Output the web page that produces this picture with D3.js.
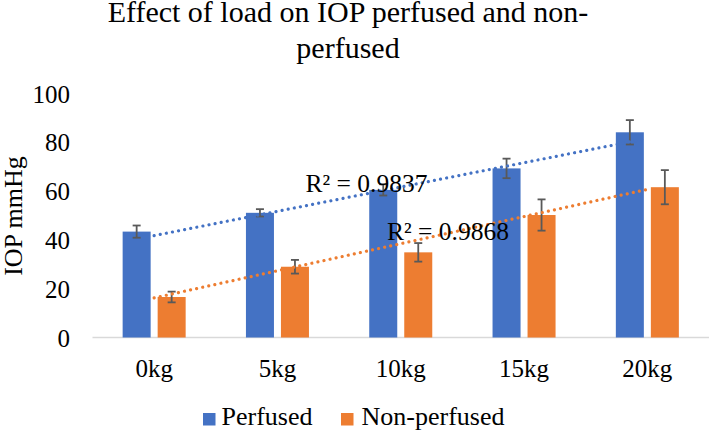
<!DOCTYPE html>
<html>
<head>
<meta charset="utf-8">
<script src="https://cdn.jsdelivr.net/npm/d3@7"></script>
<style>
  html, body { margin: 0; padding: 0; background: #fff; }
  svg { display: block; }
  text { font-family: "Liberation Serif", "Times New Roman", serif; fill: #000; }
</style>
</head>
<body>
<svg id="chart" width="709" height="432"></svg>
<script>
const categories = ["0kg", "5kg", "10kg", "15kg", "20kg"];
const seriesNames = ["Perfused", "Non-perfused"];
const perfused = [43.4, 51.1, 60.5, 69.3, 84.1];
const perfusedErr = [2.5, 1.5, 2.3, 4.0, 5.0];
const nonPerfused = [16.6, 29.0, 34.9, 50.2, 61.6];
const nonPerfusedErr = [2.2, 2.8, 3.8, 6.4, 7.0];
const yTicks = [0, 20, 40, 60, 80, 100];
const r2Labels = ["R² = 0.9837", "R² = 0.9868"];
const titleLines = ["Effect of load on IOP perfused and non-", "perfused"];
const yTitle = "IOP mmHg";
const colors = ["#4472C4", "#ED7D31"];

const FONT = '"Liberation Serif", "Times New Roman", serif';
const svg = d3.select("#chart");
const x0 = d3.scaleBand().domain(categories).range([92.5, 709]).padding(0);
const x1 = d3.scaleBand().domain(seriesNames).range([0, x0.bandwidth()])
  .paddingInner(0.2).paddingOuter(0.861);
const y = d3.scaleLinear().domain([0, 100]).range([337.5, 93.5]);

// title
svg.append("g").selectAll("text").data(titleLines).join("text")
  .attr("x", 348).attr("y", (d, i) => 22 + i * 36)
  .attr("text-anchor", "middle").style("font-size", "30px").style("font-family", FONT).text(d => d);

// y axis title
svg.append("text")
  .attr("transform", "translate(22,216) rotate(-90)")
  .attr("text-anchor", "middle").style("font-size", "26px").style("font-family", FONT).text(yTitle);

// y axis (labels only)
const yAxis = d3.axisLeft(y).tickValues(yTicks).tickSize(0).tickPadding(0);
const gy = svg.append("g").attr("transform", "translate(70,0)").call(yAxis)
  .attr("font-family", null).attr("font-size", null);
gy.select(".domain").remove();
gy.selectAll("text").style("font-size", "25px").style("font-family", FONT)
  .attr("fill", "#000").attr("dy", "0.34em");

// x axis baseline + category labels
const xAxis = d3.axisBottom(x0).tickSize(0).tickPadding(0);
const gx = svg.append("g").attr("transform", `translate(0,${y(0)})`).call(xAxis)
  .attr("font-family", null).attr("font-size", null);
gx.select(".domain").attr("stroke", "#d9d9d9").attr("stroke-width", 1.3)
  .attr("d", `M92.5,0H709`);
gx.selectAll("text").style("font-size", "25px").style("font-family", FONT)
  .attr("fill", "#000").attr("y", 39).attr("dy", "0");

const series = [
  { name: seriesNames[0], values: perfused, err: perfusedErr, color: colors[0] },
  { name: seriesNames[1], values: nonPerfused, err: nonPerfusedErr, color: colors[1] }
];

// bars
series.forEach(s => {
  svg.append("g").selectAll("rect").data(categories).join("rect")
    .attr("x", (c) => x0(c) + x1(s.name))
    .attr("y", (c, i) => y(s.values[i]))
    .attr("width", x1.bandwidth())
    .attr("height", (c, i) => y(0) - y(s.values[i]))
    .attr("fill", s.color);
});

// error bars
series.forEach(s => {
  const g = svg.append("g").attr("stroke", "#595959").attr("stroke-width", 1.8).attr("fill", "none");
  categories.forEach((c, i) => {
    const cx = x0(c) + x1(s.name) + x1.bandwidth() / 2;
    const lo = y(s.values[i] - s.err[i]);
    const hi = y(s.values[i] + s.err[i]);
    g.append("line").attr("x1", cx).attr("x2", cx).attr("y1", lo).attr("y2", hi);
    g.append("line").attr("x1", cx - 4).attr("x2", cx + 4).attr("y1", lo).attr("y2", lo);
    g.append("line").attr("x1", cx - 4).attr("x2", cx + 4).attr("y1", hi).attr("y2", hi);
  });
});

// linear trendlines (least squares over category index)
function fit(vals) {
  const xs = vals.map((v, i) => i + 1);
  const mx = d3.mean(xs), my = d3.mean(vals);
  let sxy = 0, sxx = 0;
  xs.forEach((xv, i) => { sxy += (xv - mx) * (vals[i] - my); sxx += (xv - mx) ** 2; });
  const b = sxy / sxx, a = my - b * mx;
  return xv => a + b * xv;
}
const xc = c => x0(c) + x0.bandwidth() / 2;
series.forEach(s => {
  const f = fit(s.values);
  const pts = [[xc(categories[0]), y(f(1))], [xc(categories[categories.length - 1]), y(f(categories.length))]];
  svg.append("path").attr("d", d3.line()(pts))
    .attr("stroke", s.color).attr("stroke-width", 3.2).attr("fill", "none")
    .attr("stroke-linecap", "round").attr("stroke-dasharray", "0.01 6.2");
});

// R² labels
const r2Pos = [[305.5, 191.5], [387, 240]];
svg.append("g").selectAll("text").data(r2Labels).join("text")
  .attr("x", (d, i) => r2Pos[i][0]).attr("y", (d, i) => r2Pos[i][1])
  .style("font-size", "25.5px").style("font-family", FONT).text(d => d);

// legend
const legPos = [[203, 221.5], [341, 361.5]];
const lg = svg.append("g");
series.forEach((s, i) => {
  lg.append("rect").attr("x", legPos[i][0]).attr("y", 413).attr("width", 12.5).attr("height", 12.5).attr("fill", s.color);
  lg.append("text").attr("x", legPos[i][1]).attr("y", 425).style("font-size", "26px").style("font-family", FONT).text(s.name);
});
</script>
</body>
</html>
